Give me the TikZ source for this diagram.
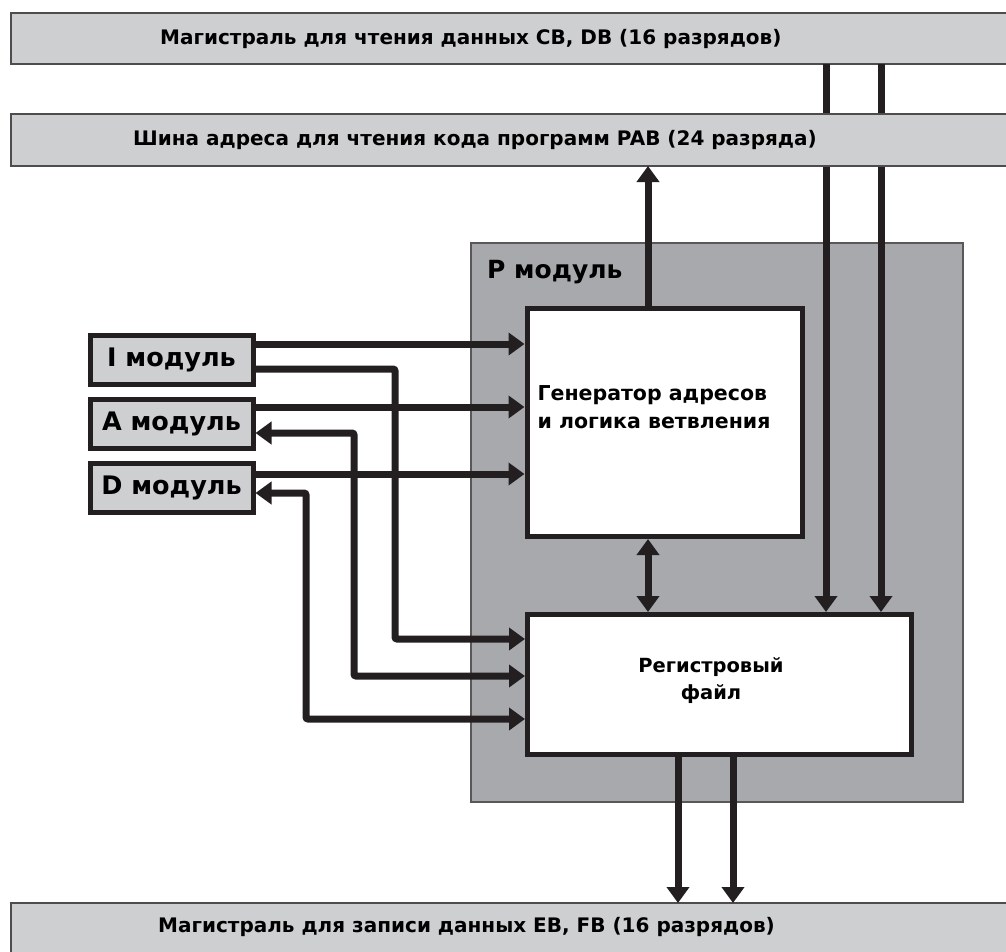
\documentclass[tikz,border=0pt]{standalone}
\usepackage{fontspec}
\setmainfont{DejaVu Sans}
\usetikzlibrary{arrows.meta}
\definecolor{busgray}{HTML}{CDCFD1}
\definecolor{modgray}{HTML}{A7A9AC}
\definecolor{ink}{HTML}{231F20}
\begin{document}
\begin{tikzpicture}[x=1pt,y=-1pt,
  bus/.style={draw=ink!80, line width=1.5pt, fill=busgray, inner sep=0pt,
              outer sep=0pt, anchor=north west},
  buslabel/.style={font=\bfseries\fontsize{20}{24}\selectfont, anchor=west, inner sep=0pt},
  unitbox/.style={draw=ink, line width=5pt, fill=white, inner sep=0pt, anchor=north west},
  modbox/.style={draw=ink, line width=5pt, fill=busgray, inner sep=0pt, anchor=north west,
                 minimum width=163pt, minimum height=49pt,
                 font=\bfseries\fontsize{25.5}{30}\selectfont},
  link/.style={draw=ink, line width=7pt, rounded corners=2pt,
               -{Triangle[length=16pt,width=22pt]}},
  link2/.style={draw=ink, line width=7pt, rounded corners=2pt,
                {Triangle[length=16pt,width=22pt]}-{Triangle[length=16pt,width=22pt]}}
]
\clip (0,0) rectangle (1006,951);
\fill[white] (0,0) rectangle (1006,951);

% read data bus
\node[bus, minimum width=1020pt, minimum height=51pt] (cb) at (11,13) {};
\node[buslabel] (cblab) at (160,38.5) {Магистраль для чтения данных CB, DB (16 разрядов)};

% P module frame
\node[bus, draw=ink!75, fill=modgray, minimum width=492pt, minimum height=559pt] (pmod) at (471,243) {};
\node[font=\bfseries\fontsize{25}{30}\selectfont, anchor=west, inner sep=0pt] (plab) at (487,272) {P модуль};

% address generator and register file
\node[unitbox, minimum width=275.5pt, minimum height=228pt] (gen) at (524.5,306) {};
\node[font=\bfseries\fontsize{20.5}{28}\selectfont, align=left] (genlab) at (654,407) {Генератор адресов\\и логика ветвления};
\node[unitbox, minimum width=383.5pt, minimum height=140pt] (reg) at (525,612) {};
\node[font=\bfseries\fontsize{19.5}{27}\selectfont, align=center] (reglab) at (711,681) {Регистровый\\файл};

% data lines from the read bus into the register file
\draw[link] (cb.south -| 826,0) -- (reg.north -| 826,0);
\draw[link] (cb.south -| 881,0) -- (reg.north -| 881,0);

% program address bus
\node[bus, minimum width=1020pt, minimum height=52pt] (pab) at (11,114) {};
\node[buslabel] (pablab) at (133,140) {Шина адреса для чтения кода программ PAB (24 разряда)};

% write data bus
\node[bus, minimum width=1020pt, minimum height=80pt] (eb) at (11,903) {};
\node[buslabel] (eblab) at (158,927) {Магистраль для записи данных EB, FB (16 разрядов)};

% generator to address bus, generator <-> register file
\draw[link] (gen.north -| 648,0) -- (pab.south -| 648,0);
\draw[link2] (gen.south -| 648,0) -- (reg.north -| 648,0);

% register file to write bus
\draw[link] (reg.south -| 678,0) -- (eb.north -| 678,0);
\draw[link] (reg.south -| 733,0) -- (eb.north -| 733,0);

% I, A, D modules
\node[modbox] (imod) at (87.5,333) {I модуль};
\node[modbox] (amod) at (87.5,396.5) {A модуль};
\node[modbox] (dmod) at (87.5,460.5) {D модуль};

% module links into the address generator
\draw[link] (imod.east |- 0,344) -- (gen.west |- 0,344);
\draw[link] (amod.east |- 0,407) -- (gen.west |- 0,407);
\draw[link] (dmod.east |- 0,474) -- (gen.west |- 0,474);

% module links into the register file
\draw[link] (imod.east |- 0,369) -| (395,639) -- (reg.west |- 0,639);
\draw[link2] (amod.east |- 0,433) -| (354,676) -- (reg.west |- 0,676);
\draw[link2] (dmod.east |- 0,493) -| (306,719) -- (reg.west |- 0,719);
\end{tikzpicture}
\end{document}
